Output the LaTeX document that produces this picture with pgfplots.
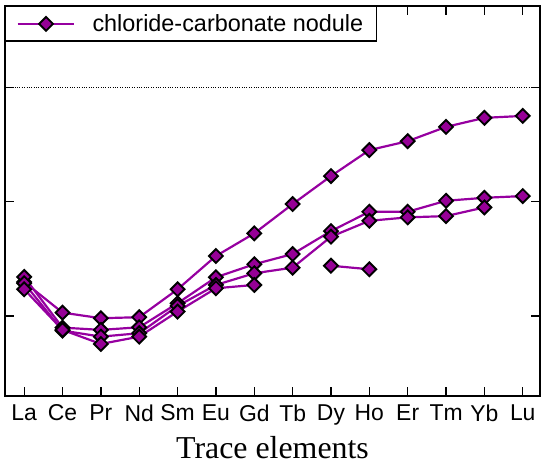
\documentclass[border=0pt]{standalone}
\usepackage{pgfplots}
\pgfplotsset{compat=1.18}
\usepackage{fontspec}
\setmainfont{Liberation Sans}
\newfontfamily\timesfont{Liberation Serif}
\definecolor{reeline}{RGB}{150,0,160}
\definecolor{reefill}{RGB}{150,0,150}

\begin{document}
\begin{tikzpicture}
\pgfplotsset{
  ree/.style={
    reeline, line width=2.2pt,
    mark=square*, mark size=4.9bp,
    mark options={fill=reefill, draw=black, line width=1.9pt, solid, rotate=45}},
}
\begin{axis}[
  name=ax,
  scale only axis, width=535bp, height=390bp,
  xmin=-0.5, xmax=13.45, ymin=-0.7, ymax=2.71,
  xtick={0,...,13},
  xticklabels={La,Ce,Pr,Nd,Sm,Eu,Gd,Tb,Dy,Ho,Er,Tm,Yb,Lu},
  ytick={0,1}, yticklabels={},
  extra y ticks={2}, extra y tick labels={},
  extra y tick style={grid=major, major grid style={dotted, black, line width=0.6pt}},
  tick align=inside, major tick length=9bp,
  every tick/.style={black, line width=1.3pt},
  axis line style={line width=1.6pt},
  xticklabel style={font=\fontsize{23}{25}\selectfont, yshift=-5bp},
  xlabel={\timesfont\fontsize{32}{34}\selectfont Trace elements},
  xlabel style={inner sep=0pt, yshift=-8bp},
  unbounded coords=jump,
  legend style={at={(0,1)}, anchor=north west, draw=black, line width=1.3pt,
    font=\fontsize{23.5}{25}\selectfont, inner xsep=11bp, inner ysep=6bp,
    /tikz/every odd column/.append style={column sep=15bp}},
  legend cell align=left,
  legend image code/.code={
    \draw[mark repeat=2, mark phase=2] plot coordinates {(0cm,0cm) (1cm,0cm) (2cm,0cm)};},
]
% upper pattern
\addplot[ree] coordinates {(0,0.297) (1,0.029) (2,-0.020) (3,-0.011) (4,0.233) (5,0.524)
  (6,0.722) (7,0.978) (8,1.223) (9,1.450) (10,1.528) (11,1.653) (12,1.732) (13,1.749)};
\addlegendentry{chloride-carbonate nodule}
\addplot[ree, forget plot] coordinates {(0,0.341) (1,-0.102) (2,-0.122) (3,-0.099) (4,0.111) (5,0.338)
  (6,0.452) (7,0.541) (8,0.742) (9,0.911) (10,0.911) (11,1.007) (12,1.033) (13,1.048)};
\addplot[ree, forget plot] coordinates {(0,0.286) (1,-0.128) (2,-0.181) (3,-0.151) (4,0.087) (5,0.271)
  (6,0.373) (7,0.422) (8,0.693) (9,0.832) (10,0.862) (11,0.873) (12,0.949)};
\addplot[ree, forget plot] coordinates {(0,0.233) (1,-0.122) (2,-0.245) (3,-0.181) (4,0.038) (5,0.242)
  (6,0.271) (7,nan) (8,0.439) (9,0.408)};
\end{axis}
\pgfresetboundingbox
\path ([shift={(-5bp,-69bp)}]ax.south west) rectangle ([shift={(2bp,6bp)}]ax.north east);
\end{tikzpicture}
\end{document}
